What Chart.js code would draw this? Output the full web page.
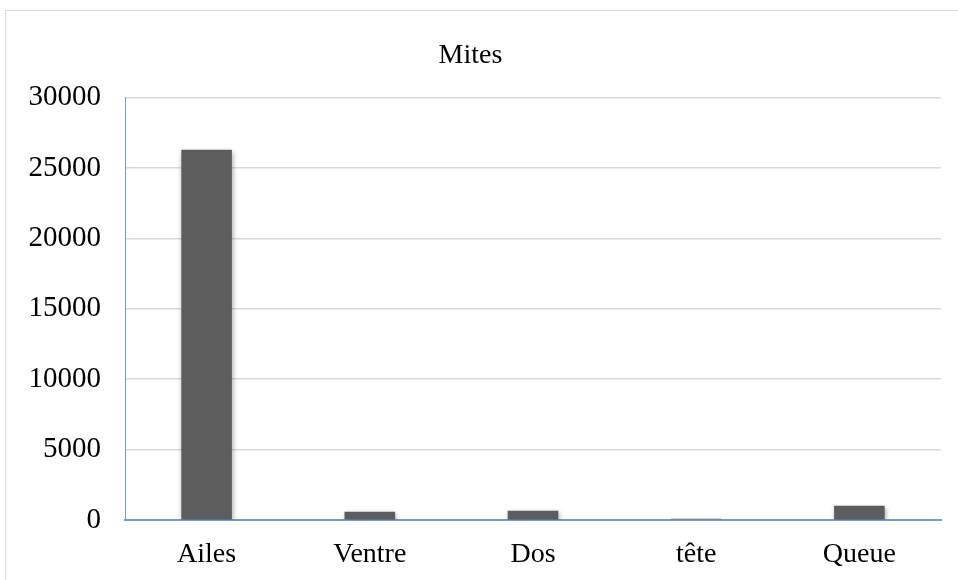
<!DOCTYPE html>
<html>
<head>
<meta charset="utf-8">
<script src="https://cdn.jsdelivr.net/npm/chart.js@4/dist/chart.umd.min.js"></script>
<style>
  html, body { margin: 0; padding: 0; background: #ffffff; }
  #wrap { position: relative; width: 958px; height: 580px; overflow: hidden; }
  #frame { position: absolute; left: 5px; top: 10px; width: 1000px; height: 600px; border: 1px solid #d9d9d9; box-sizing: border-box; }
  canvas { position: absolute; left: 0; top: 0; }
</style>
</head>
<body>
<div id="wrap">
  <div id="frame"></div>
  <canvas id="c" width="958" height="580"></canvas>
</div>
<script>
const chartTitle = "Mites";
const categories = ["Ailes", "Ventre", "Dos", "tête", "Queue"];
const values = [26300, 580, 650, 80, 1010];
const yTicks = [0, 5000, 10000, 15000, 20000, 25000, 30000];

const shadowPlugin = {
  id: 'barShadow',
  beforeDatasetsDraw(chart) {
    const ctx = chart.ctx;
    ctx.save();
    ctx.shadowColor = 'rgba(0,0,0,0.35)';
    ctx.shadowBlur = 5;
    ctx.shadowOffsetX = 1;
    ctx.shadowOffsetY = 2;
  },
  afterDatasetsDraw(chart) {
    chart.ctx.restore();
  }
};

new Chart(document.getElementById('c'), {
  type: 'bar',
  data: {
    labels: categories,
    datasets: [{
      data: values,
      backgroundColor: '#5d5d5d',
      borderWidth: 0,
      barPercentage: 0.62,
      categoryPercentage: 0.5
    }]
  },
  plugins: [shadowPlugin],
  options: {
    responsive: false,
    animation: false,
    layout: { padding: { left: 0, right: 17, top: 0, bottom: 0 } },
    plugins: {
      legend: { display: false },
      tooltip: { enabled: false },
      title: {
        display: true,
        text: chartTitle,
        color: '#000000',
        font: { family: 'Liberation Serif', size: 28, weight: 'normal' },
        padding: { top: 39, bottom: 25 }
      }
    },
    scales: {
      x: {
        grid: { display: false, drawTicks: false },
        border: { display: true, color: '#6a9fd8', width: 2 },
        ticks: {
          color: '#000000',
          font: { family: 'Liberation Serif', size: 28 },
          padding: 18
        },
        afterFit(scale) { scale.height = 60; }
      },
      y: {
        min: 0,
        max: 30000,
        afterBuildTicks(scale) { scale.ticks = yTicks.map(v => ({ value: v })); },
        grid: { color: '#d9d9d9', lineWidth: 1.5, drawTicks: false },
        border: { display: true, color: '#6a9fd8', width: 1, z: 1 },
        ticks: {
          color: '#000000',
          font: { family: 'Liberation Serif', size: 29 },
          padding: 24,
          callback: (v) => String(v)
        },
        afterFit(scale) { scale.width = 125; }
      }
    }
  }
});
</script>
</body>
</html>
